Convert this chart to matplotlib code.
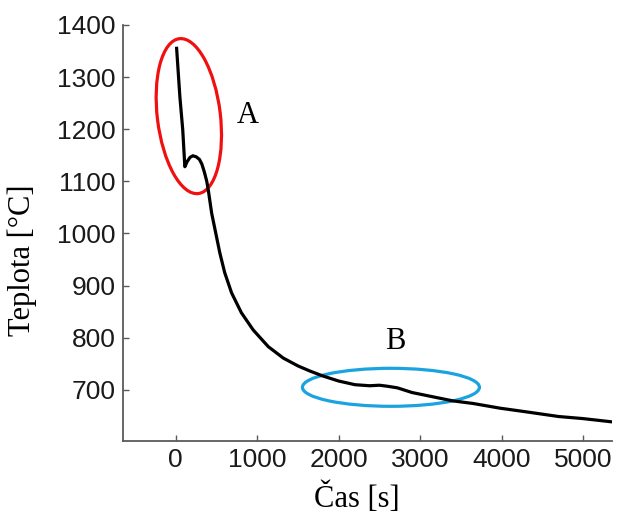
import matplotlib
matplotlib.use("Agg")
import matplotlib.pyplot as plt
import matplotlib.patches as patches
from matplotlib.transforms import ScaledTranslation

# cooling curve, time [s] vs. temperature [deg C]
time_s = [10, 50, 85, 111, 140, 175, 209, 250, 290, 320, 350, 380, 400, 440,
          490, 540, 600, 685, 805, 950, 1135, 1320, 1500, 1650, 1800, 2000,
          2200, 2380, 2500, 2600, 2720, 2900, 3150, 3400, 3650, 3980, 4300,
          4700, 5000, 5340]
temp_c = [1355, 1262, 1199, 1128, 1138, 1146, 1149, 1147, 1142, 1133, 1118,
          1100, 1082, 1039, 1001, 963, 925, 886, 848, 815, 783, 761, 746,
          736, 727, 717, 710, 708, 709, 707, 704, 695, 687, 679, 674, 665,
          658, 649, 645, 639]

x_ticks = [0, 1000, 2000, 3000, 4000, 5000]
y_ticks = [700, 800, 900, 1000, 1100, 1200, 1300, 1400]

# highlighted regions: (label, centre t, centre T, label t, label T)
region_a = ("A", 160, 1225, 885, 1227)
region_b = ("B", 2641, 705, 2690, 792)

serif = "Liberation Serif"
sans = "Liberation Sans"

fig = plt.figure(figsize=(6.17, 5.18), dpi=100)
ax = fig.add_axes([0.199, 0.1486, 0.793, 0.8034])

ax.plot(time_s, temp_c, color="black", lw=2.3, solid_joinstyle="round")

ax.set_xlim(-651, 5356)
ax.set_ylim(602, 1400)
ax.set_xticks(x_ticks)
ax.set_yticks(y_ticks)

for side in ("top", "right"):
    ax.spines[side].set_visible(False)
for side in ("left", "bottom"):
    ax.spines[side].set_color("#5a5a5a")
    ax.spines[side].set_linewidth(1.3)

ax.tick_params(direction="in", length=4, width=1, color="#5a5a5a", pad=5)
for lab in ax.get_xticklabels() + ax.get_yticklabels():
    lab.set_fontfamily(sans)
    lab.set_fontsize(19)
    lab.set_color("#1a1a1a")

ax.set_ylabel("Teplota [°C]", fontfamily=serif, fontsize=22)
ax.yaxis.set_label_coords(-0.176, 0.435)
ax.set_xlabel("Čas [s]", fontfamily=serif, fontsize=22)
ax.xaxis.set_label_coords(0.4775, -0.10)


def ring(cx, cy, w_in, h_in, angle, color):
    # ellipse sized in inches, centred on a data point
    tr = fig.dpi_scale_trans + ScaledTranslation(cx, cy, ax.transData)
    e = patches.Ellipse((0, 0), w_in, h_in, angle=angle, fill=False,
                        edgecolor=color, lw=2.3, transform=tr, clip_on=False)
    ax.add_patch(e)


ring(region_a[1], region_a[2], 0.63, 1.56, 7, "#f01010")
ring(region_b[1], region_b[2], 1.77, 0.38, 0, "#1ba3e0")

for name, _, _, lx, ly in (region_a, region_b):
    ax.text(lx, ly, name, fontfamily=serif, fontsize=22,
            ha="center", va="center")

fig.savefig("out.png", dpi=100)
